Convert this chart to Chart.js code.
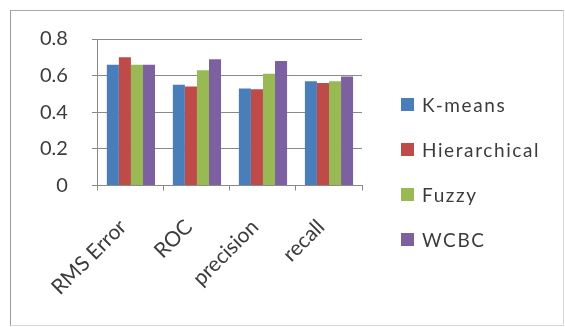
<!DOCTYPE html>
<html>
<head>
<meta charset="utf-8">
<script src="https://cdn.jsdelivr.net/npm/chart.js@4/dist/chart.umd.min.js"></script>
<style>
  html, body { margin: 0; padding: 0; background: #ffffff; }
  #frame {
    position: absolute; left: 10px; top: 10px; width: 552px; height: 314px;
    border: 1px solid #d6d6d6; border-left-color: #9c9c9c; border-top-color: #a9a9a9;
  }
  #wrap { position: absolute; left: 0; top: 0; width: 565px; height: 327px; }
  #legend {
    position: absolute; left: 401px; top: 92px; margin: 0; padding: 0; list-style: none;
    font-family: Lato, "Open Sans", sans-serif; font-size: 19px; letter-spacing: 1.6px; color: #3c3c3c;
  }
  #legend li { display: flex; align-items: center; height: 24px; margin-bottom: 21.3px; white-space: nowrap; }
  #legend .sw { width: 13px; height: 13px; margin-right: 8px; flex: none; }
</style>
</head>
<body>
<div id="frame"></div>
<div id="wrap"><canvas id="c" width="565" height="327"></canvas></div>
<ul id="legend"></ul>
<script>
// Evaluation metrics per clustering method
const categories = ['RMS Error', 'ROC', 'precision', 'recall'];
const kmeans       = [0.66, 0.55, 0.53, 0.57];
const hierarchical = [0.70, 0.54, 0.525, 0.56];
const fuzzy        = [0.66, 0.63, 0.61, 0.57];
const wcbc         = [0.66, 0.69, 0.68, 0.595];
const yTicks = [0, 0.2, 0.4, 0.6, 0.8];

const seriesNames  = ['K-means', 'Hierarchical', 'Fuzzy', 'WCBC'];
const seriesData   = [kmeans, hierarchical, fuzzy, wcbc];
const seriesColors = ['#4a7ebb', '#be4b48', '#98b954', '#7d60a0'];

const fontFamily = 'Lato, "Open Sans", sans-serif';
const textColor = '#3c3c3c';
const lineColor = '#8a8a8a';

const chart = new Chart(document.getElementById('c'), {
  type: 'bar',
  data: {
    labels: categories,
    datasets: seriesData.map((d, i) => ({
      label: seriesNames[i],
      data: d,
      backgroundColor: seriesColors[i],
      borderWidth: 0,
      barPercentage: 1.0,
      categoryPercentage: 0.73
    }))
  },
  options: {
    responsive: false,
    animation: false,
    devicePixelRatio: 1,
    layout: { padding: { left: 16, top: 39, right: 203, bottom: 3 } },
    plugins: {
      tooltip: { enabled: false },
      legend: { display: false }
    },
    scales: {
      x: {
        grid: { drawOnChartArea: false, drawTicks: true, tickLength: 5, color: lineColor, offset: true },
        border: { color: lineColor, width: 1 },
        ticks: {
          color: textColor, font: { family: fontFamily, size: 21 },
          minRotation: 45, maxRotation: 45, padding: 24, labelOffset: -8
        }
      },
      y: {
        min: 0, max: 0.8,
        afterBuildTicks: axis => { axis.ticks = yTicks.map(v => ({ value: v })); },
        grid: { color: lineColor, tickLength: 6, drawTicks: true },
        border: { color: lineColor, width: 1 },
        ticks: { color: textColor, font: { family: fontFamily, size: 20 }, padding: 24, callback: v => String(v) }
      }
    }
  }
});

// Series key, built from the chart's own datasets
const legend = document.getElementById('legend');
chart.data.datasets.forEach(ds => {
  const li = document.createElement('li');
  const sw = document.createElement('span');
  sw.className = 'sw';
  sw.style.background = ds.backgroundColor;
  li.appendChild(sw);
  li.appendChild(document.createTextNode(ds.label));
  legend.appendChild(li);
});
</script>
</body>
</html>
